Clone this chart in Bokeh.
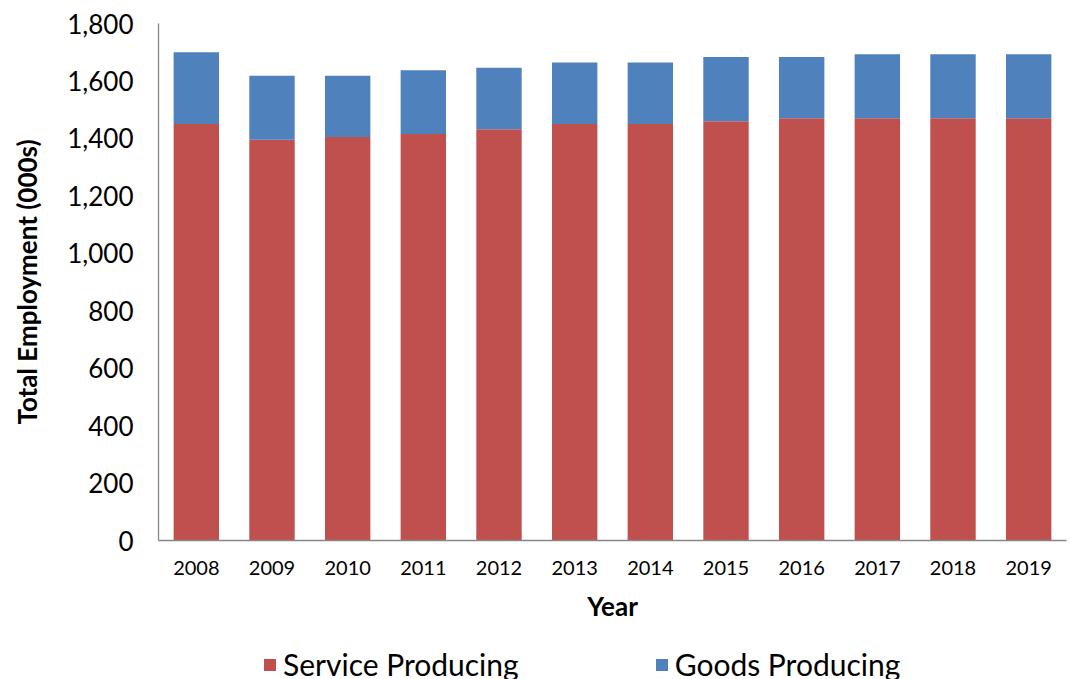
from bokeh.plotting import figure
from bokeh.layouts import column
from bokeh.models import FactorRange, Range1d, FixedTicker, NumeralTickFormatter, Legend, LegendItem
from bokeh.embed import file_html
from bokeh.resources import INLINE

years = ["2008", "2009", "2010", "2011", "2012", "2013", "2014", "2015", "2016", "2017", "2018", "2019"]
service = [1450, 1395, 1405, 1415, 1432, 1450, 1450, 1460, 1470, 1470, 1470, 1470]
goods = [250, 223, 213, 222, 214, 214, 214, 223, 213, 223, 223, 223]
series = ["Service Producing", "Goods Producing"]
colors = ["#C0504D", "#4F81BD"]
y_ticks = [0, 200, 400, 600, 800, 1000, 1200, 1400, 1600, 1800]

FONT = "Lato"

p = figure(x_range=FactorRange(*years), y_range=Range1d(0, 1800),
           width=1070, height=632, output_backend="svg", toolbar_location=None,
           min_border_left=158, min_border_right=4, min_border_top=23, min_border_bottom=92)
p.outline_line_color = None
p.xgrid.grid_line_color = None
p.ygrid.grid_line_color = None

data = {"years": years, series[0]: service, series[1]: goods}
rs = p.vbar_stack(series, x="years", width=0.6, color=colors, source=data,
                  line_color=None)

p.yaxis.ticker = FixedTicker(ticks=y_ticks)
p.yaxis.formatter = NumeralTickFormatter(format="0,0")
for ax in (p.xaxis[0], p.yaxis[0]):
    ax.axis_line_color = "#868686"
    ax.axis_line_width = 1.3
    ax.major_tick_line_color = None
    ax.minor_tick_line_color = None
    ax.major_label_text_font = FONT
    ax.major_label_text_color = "#000000"
    ax.axis_label_text_font = FONT
    ax.axis_label_text_font_style = "bold"
    ax.axis_label_text_color = "#000000"
    ax.axis_label_text_font_size = "26px"

p.yaxis.major_label_text_font_size = "26px"
p.yaxis.major_label_standoff = 19
p.yaxis.axis_label = "Total Employment (000s)"
p.yaxis.axis_label_standoff = 21

p.xaxis.major_label_text_font_size = "20px"
p.xaxis.major_label_standoff = 14
p.xaxis.axis_label = "Year"
p.xaxis.axis_label_standoff = 12

# legend strip below the chart (zero-height swatch renderers, nothing drawn in the strip)
lg = figure(width=1070, height=47, output_backend="svg", toolbar_location=None,
            x_range=Range1d(0, 1), y_range=Range1d(0, 1),
            x_axis_type=None, y_axis_type=None,
            min_border_left=0, min_border_right=0, min_border_top=0, min_border_bottom=0)
lg.outline_line_color = None
lg.xgrid.grid_line_color = None
lg.ygrid.grid_line_color = None
dummies = [lg.vbar(x=[0.5], top=[0], bottom=[0], width=0.1, color=c, line_color=None)
           for c in colors]

legend = Legend(items=[LegendItem(label=s, renderers=[r]) for s, r in zip(series, dummies)],
                orientation="horizontal", location=(104, -3),
                label_text_font=FONT, label_text_font_size="30px",
                label_text_color="#000000",
                glyph_width=15, glyph_height=15, label_standoff=6,
                spacing=135, padding=0, margin=0,
                border_line_color=None, background_fill_alpha=0)
lg.add_layout(legend, "center")

layout = column(p, lg, spacing=0)
open("out.html", "w").write(file_html(layout, INLINE))
